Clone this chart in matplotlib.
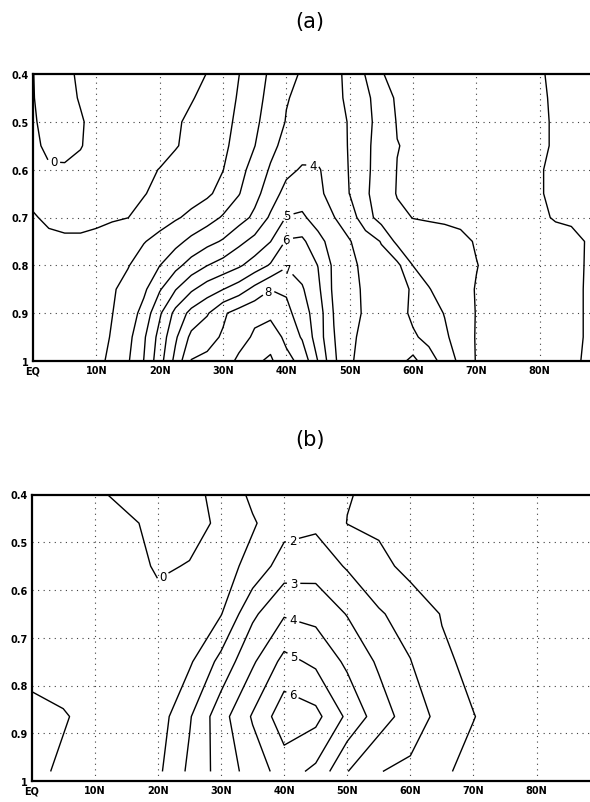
import matplotlib
matplotlib.use("Agg")
import matplotlib.pyplot as plt
import numpy as np

# ---------------- panel (a) data: latitude x sigma grid ----------------
lat_a = np.arange(0, 90.1, 2.5)
sigma_a = [0.40, 0.45, 0.50, 0.55, 0.60, 0.65, 0.70, 0.75, 0.80, 0.85, 0.90, 0.95, 1.00]
a_s040 = [-0.01, 0.2, 0.15, -0.1, -0.3, -0.4, -0.45, -0.45, -0.45, -0.4, -0.25, 0.02, 0.4, 0.98, 1.55, 2.15, 2.7, 3.1, 3.2, 3.15, 2.85, 1.95, 1.03, 0.85, 0.8, 0.8, 0.75, 0.7, 0.65, 0.55, 0.45, 0.35, 0.05, -0.1, -0.2, -0.25, -0.3]
a_s045 = [-0.02, 0.2, 0.2, -0.05, -0.25, -0.35, -0.4, -0.4, -0.4, -0.3, -0.05, 0.2, 0.5, 1.1, 1.65, 2.3, 2.95, 3.2, 3.25, 3.2, 2.85, 2.3, 1.35, 0.9, 0.85, 0.8, 0.75, 0.7, 0.65, 0.55, 0.45, 0.35, 0.1, -0.1, -0.2, -0.25, -0.3]
a_s050 = [-0.05, 0.15, 0.2, 0.06, -0.2, -0.35, -0.4, -0.4, -0.35, -0.1, 0.15, 0.4, 0.7, 1.2, 1.8, 2.45, 3.05, 3.35, 3.4, 3.25, 2.95, 2.3, 1.6, 0.95, 0.85, 0.8, 0.75, 0.7, 0.65, 0.55, 0.45, 0.35, 0.15, -0.1, -0.2, -0.25, -0.3]
a_s055 = [-0.1, 0.1, 0.12, 0.03, -0.2, -0.35, -0.4, -0.35, -0.25, -0.05, 0.2, 0.45, 0.8, 1.35, 1.98, 2.75, 3.3, 3.6, 3.55, 3.3, 2.95, 2.25, 1.5, 1.02, 0.9, 0.8, 0.75, 0.7, 0.65, 0.55, 0.45, 0.35, 0.15, -0.1, -0.2, -0.25, -0.3]
a_s060 = [-0.15, -0.05, -0.05, -0.15, -0.3, -0.3, -0.25, -0.15, 0.02, 0.25, 0.45, 0.7, 0.98, 1.65, 2.4, 3.1, 3.75, 4.1, 4.1, 3.5, 2.95, 2.2, 1.55, 0.98, 0.85, 0.8, 0.75, 0.7, 0.65, 0.55, 0.45, 0.3, 0.05, -0.15, -0.2, -0.25, -0.3]
a_s065 = [-0.15, -0.25, -0.3, -0.3, -0.3, -0.25, -0.2, -0.05, 0.25, 0.45, 0.65, 0.85, 1.3, 1.95, 2.7, 3.5, 4.35, 4.55, 4.2, 3.65, 2.98, 2.15, 1.5, 0.95, 0.85, 0.8, 0.75, 0.7, 0.65, 0.55, 0.45, 0.3, 0.05, -0.15, -0.2, -0.25, -0.3]
a_s070 = [0.05, -0.1, -0.15, -0.15, -0.1, -0.08, -0.01, 0.3, 0.6, 0.9, 1.2, 1.6, 2.1, 2.6, 3.2, 4.15, 5.05, 5.15, 4.6, 4.03, 3.5, 2.4, 1.6, 1.2, 0.98, 0.93, 0.9, 0.85, 0.8, 0.7, 0.6, 0.4, 0.2, -0.1, -0.15, -0.2, -0.25]
a_s075 = [0.25, 0.12, 0.08, 0.08, 0.12, 0.35, 0.65, 0.95, 1.3, 1.7, 2.25, 2.7, 3.1, 3.75, 4.3, 4.98, 6.1, 6.2, 5.3, 4.6, 4.05, 3.5, 2.95, 1.75, 1.45, 1.35, 1.25, 1.15, 0.95, 0.85, 0.75, 0.65, 0.55, 0.45, 0.25, -0.05, -0.2]
a_s080 = [0.45, 0.5, 0.55, 0.6, 0.7, 0.8, 0.95, 1.45, 1.98, 2.7, 3.4, 3.98, 4.4, 4.85, 5.45, 6.1, 6.9, 6.6, 5.98, 4.8, 4.3, 3.7, 3.35, 3.25, 1.98, 1.6, 1.4, 1.2, 1.02, 0.85, 0.7, 0.6, 0.5, 0.4, 0.2, -0.05, -0.2]
a_s085 = [0.45, 0.5, 0.55, 0.6, 0.7, 0.9, 1.3, 1.8, 2.9, 3.95, 4.85, 5.5, 5.98, 6.5, 7.3, 7.98, 7.85, 7.1, 6.2, 4.8, 4.4, 3.8, 3.5, 3.3, 2.9, 2.05, 1.6, 1.2, 0.97, 0.8, 0.7, 0.6, 0.5, 0.35, 0.15, -0.05, -0.2]
a_s090 = [0.45, 0.5, 0.55, 0.6, 0.65, 0.98, 1.45, 2.35, 3.85, 5.3, 6.3, 6.9, 7.85, 8.4, 8.75, 8.75, 8.3, 7.45, 6.5, 4.95, 4.4, 3.85, 3.55, 3.3, 2.85, 2.5, 1.95, 1.4, 0.97, 0.8, 0.7, 0.6, 0.5, 0.35, 0.15, -0.05, -0.2]
a_s095 = [0.45, 0.5, 0.55, 0.6, 0.6, 1.08, 1.7, 2.85, 4.35, 5.85, 7.25, 7.7, 8.1, 8.6, 9.15, 9.6, 8.75, 7.9, 6.5, 5.05, 4.15, 3.8, 3.6, 3.45, 3.1, 2.8, 2.2, 1.45, 0.95, 0.8, 0.7, 0.6, 0.5, 0.35, 0.15, -0.05, -0.2]
a_s100 = [0.45, 0.5, 0.55, 0.6, 0.7, 1.25, 1.9, 3.02, 4.6, 6.3, 8.05, 8.2, 8.5, 9.2, 9.85, 10.15, 9.3, 8.7, 6.97, 5.2, 4.05, 3.85, 3.7, 3.6, 4.3, 3.3, 2.75, 1.7, 0.95, 0.8, 0.7, 0.6, 0.5, 0.35, 0.15, -0.1, -0.2]
plain_levels_a = [1, 2, 3, 9, 10]
label_levels_a = [0, 4, 5, 6, 7, 8]

# ---------------- panel (b) data ----------------
lat_b = np.arange(0, 90.1, 5)
sigma_b = [0.40, 0.46, 0.55, 0.65, 0.75, 0.865, 0.98]
b_s040 = [0.5, 0.5, 0.2, -0.3, -0.5, -0.3, 0.3, 1.2, 1.5, 1.6, 1.05, 0.8, 0.6, 0.5, 0.4, 0.4, 0.4, 0.4, 0.4]
b_s046 = [0.5, 0.5, 0.4, 0.2, -0.3, -0.4, 0.2, 0.9, 1.6, 1.8, 0.98, 0.8, 0.6, 0.5, 0.4, 0.4, 0.4, 0.4, 0.4]
b_s055 = [0.6, 0.6, 0.5, 0.5, -0.15, 0.06, 0.6, 1.3, 2.5, 2.6, 1.9, 1.3, 0.7, 0.5, 0.4, 0.35, 0.3, 0.3, 0.3]
b_s065 = [0.6, 0.6, 0.6, 0.5, 0.4, 0.6, 0.95, 2.8, 3.9, 3.7, 2.95, 2.1, 1.6, 0.95, 0.7, 0.5, 0.4, 0.35, 0.3]
b_s075 = [0.7, 0.7, 0.6, 0.6, 0.7, 0.85, 2.3, 3.85, 5.3, 4.8, 3.8, 2.85, 2.03, 1.15, 0.8, 0.6, 0.5, 0.4, 0.4]
b_s087 = [1.25, 1.05, 0.8, 0.55, 0.5, 1.9, 3.6, 5.1, 6.6, 6.3, 4.8, 3.5, 2.5, 1.7, 1.02, 0.7, 0.5, 0.4, 0.4]
b_s098 = [1.15, 0.9, 0.7, 0.6, 0.8, 2.2, 3.4, 4.43, 5.45, 4.77, 3.03, 2.03, 1.8, 1.1, 0.8, 0.6, 0.5, 0.4, 0.4]
plain_levels_b = [1]
label_levels_b = [0, 2, 3, 4, 5, 6]

xticks = [0, 10, 20, 30, 40, 50, 60, 70, 80]
xticklabels = ["EQ", "10N", "20N", "30N", "40N", "50N", "60N", "70N", "80N"]
yticks = [0.4, 0.5, 0.6, 0.7, 0.8, 0.9, 1.0]
yticklabels = ["0.4", "0.5", "0.6", "0.7", "0.8", "0.9", "1"]

W, H = 590, 803
fig = plt.figure(figsize=(W / 100, H / 100), dpi=100)


def style_axes(ax):
    ax.set_xlim(0, 90)
    ax.set_ylim(1.0, 0.4)
    ax.set_xticks(xticks)
    ax.set_xticklabels(xticklabels)
    ax.set_yticks(yticks)
    ax.set_yticklabels(yticklabels)
    ax.tick_params(length=0, pad=3, labelsize=7)
    for lab in ax.get_xticklabels() + ax.get_yticklabels():
        lab.set_fontweight("bold")
    for x in xticks[1:]:
        ax.axvline(x, color="0.25", lw=0.8, ls=(0, (1, 4)), zorder=0)
    for y in yticks[1:-1]:
        ax.axhline(y, color="0.25", lw=0.8, ls=(0, (1, 4)), zorder=0)
    for sp in ax.spines.values():
        sp.set_linewidth(1.6)


def draw_panel(ax, lat, sig, Z, plain, labelled, spots):
    ax.contour(lat, sig, Z, levels=plain, colors="k",
               linewidths=1.0, linestyles="solid")
    cs = ax.contour(lat, sig, Z, levels=labelled, colors="k",
                    linewidths=1.0, linestyles="solid")
    texts = ax.clabel(cs, inline=True, inline_spacing=3, fmt="%d",
                      fontsize=8.5, manual=spots)
    for t in texts:
        t.set_rotation(0)
    style_axes(ax)


# panel (a)
axa = fig.add_axes([33 / W, (H - 362) / H, 570 / W, 287 / H])
Za = np.array([a_s040, a_s045, a_s050, a_s055, a_s060, a_s065, a_s070,
               a_s075, a_s080, a_s085, a_s090, a_s095, a_s100])
draw_panel(axa, lat_a, sigma_a, Za, plain_levels_a, label_levels_a,
           [(3.2, 0.59), (44.2, 0.595), (40.0, 0.69),
            (40.0, 0.745), (40.3, 0.808), (37.0, 0.851)])

# panel (b)
axb = fig.add_axes([31.7 / W, (H - 782) / H, 568 / W, 286.5 / H])
Zb = np.array([b_s040, b_s046, b_s055, b_s065, b_s075, b_s087, b_s098])
draw_panel(axb, lat_b, sigma_b, Zb, plain_levels_b, label_levels_b,
           [(21.4, 0.585), (41.5, 0.504), (41.5, 0.584),
            (41.5, 0.658), (41.5, 0.738), (41.5, 0.815)])

fig.text(310 / W, 1 - 22 / H, "(a)", ha="center", va="center", fontsize=15)
fig.text(310 / W, 1 - 440 / H, "(b)", ha="center", va="center", fontsize=15)

fig.savefig("out.png", dpi=100)
